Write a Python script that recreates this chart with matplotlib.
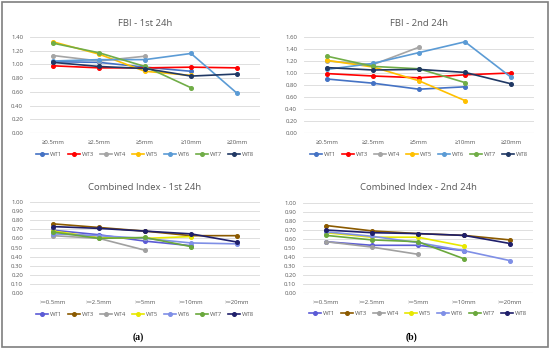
import numpy as np
import matplotlib
matplotlib.use("Agg")
import matplotlib.pyplot as plt
from matplotlib.patches import Rectangle

nan = np.nan
series = ["WT1", "WT3", "WT4", "WT5", "WT6", "WT7", "WT8"]
cats_fbi = ["≥0.5mm", "≥2.5mm", "≥5mm", "≥10mm", "≥20mm"]
cats_ci = [">=0.5mm", ">=2.5mm", ">=5mm", ">=10mm", ">=20mm"]

fbi_1st = {
    "WT1": [1.04, 1.03, 0.96, 0.90, nan],
    "WT3": [0.98, 0.95, 0.95, 0.96, 0.95],
    "WT4": [1.13, 1.05, 1.12, nan, nan],
    "WT5": [1.33, 1.15, 0.90, 0.84, nan],
    "WT6": [1.05, 1.07, 1.07, 1.16, 0.58],
    "WT7": [1.31, 1.17, 0.97, 0.66, nan],
    "WT8": [1.03, 0.97, 0.94, 0.83, 0.86],
}
fbi_2nd = {
    "WT1": [0.90, 0.83, 0.73, 0.77, nan],
    "WT3": [0.99, 0.95, 0.92, 0.97, 1.00],
    "WT4": [1.20, 1.14, 1.43, nan, nan],
    "WT5": [1.21, 1.10, 0.87, 0.54, nan],
    "WT6": [1.06, 1.16, 1.34, 1.52, 0.93],
    "WT7": [1.28, 1.11, 1.07, 0.84, nan],
    "WT8": [1.09, 1.05, 1.06, 1.01, 0.82],
}
ci_1st = {
    "WT1": [0.69, 0.64, 0.57, 0.52, nan],
    "WT3": [0.76, 0.72, 0.68, 0.63, 0.63],
    "WT4": [0.63, 0.60, 0.47, nan, nan],
    "WT5": [0.68, 0.61, 0.60, 0.62, nan],
    "WT6": [0.65, 0.63, 0.60, 0.55, 0.54],
    "WT7": [0.67, 0.60, 0.61, 0.51, nan],
    "WT8": [0.73, 0.71, 0.68, 0.65, 0.56],
}
ci_2nd = {
    "WT1": [0.57, 0.53, 0.53, 0.47, nan],
    "WT3": [0.75, 0.69, 0.66, 0.64, 0.59],
    "WT4": [0.57, 0.51, 0.43, nan, nan],
    "WT5": [0.67, 0.62, 0.62, 0.52, nan],
    "WT6": [0.68, 0.63, 0.56, 0.47, 0.36],
    "WT7": [0.64, 0.59, 0.57, 0.38, nan],
    "WT8": [0.70, 0.67, 0.66, 0.64, 0.55],
}

fbi_colors = {"WT1": "#4472C4", "WT3": "#FF0000", "WT4": "#A5A5A5", "WT5": "#FFC000",
              "WT6": "#5B9BD5", "WT7": "#70AD47", "WT8": "#203864"}
ci_colors = {"WT1": "#5B5BD6", "WT3": "#8B5A00", "WT4": "#A0A0A0", "WT5": "#E8E800",
             "WT6": "#7F8FE6", "WT7": "#6AA83C", "WT8": "#1F1F6B"}

plt.rcParams["font.family"] = ["Open Sans", "DejaVu Sans"]

W, H = 550, 349
fig = plt.figure(figsize=(W / 100, H / 100), dpi=100)


def panel(px_left, px_top, px_right, px_bottom, title, cats, data, colors, ymax, ystep, title_y):
    ax = fig.add_axes([px_left / W, 1 - px_bottom / H, (px_right - px_left) / W, (px_bottom - px_top) / H])
    x = np.arange(len(cats))
    for s in series:
        ax.plot(x, data[s], color=colors[s], lw=1.2, marker="o", ms=2.6, label=s)
    ax.set_xlim(-0.5, len(cats) - 0.5)
    ax.set_ylim(0, ymax)
    ticks = np.arange(0, ymax + ystep / 2, ystep)
    ax.set_yticks(ticks)
    ax.set_yticklabels([f"{t:.2f}" for t in ticks])
    ax.set_xticks(x)
    ax.set_xticklabels(cats)
    ax.tick_params(length=0, labelsize=4.3, colors="#595959", pad=5)
    ax.grid(axis="y", color="#D9D9D9", lw=0.6)
    ax.set_axisbelow(True)
    for sp in ax.spines.values():
        sp.set_visible(False)
    ax.axhline(0, color="#D9D9D9", lw=0.8)
    cx = (px_left + px_right) / 2 / W
    fig.text(cx, 1 - title_y / H, title, ha="center", va="center", fontsize=6.8, color="#595959")
    ax.legend(loc="upper center", bbox_to_anchor=(0.5, -0.17), ncol=7, frameon=False,
              fontsize=4.3, labelcolor="#595959", handlelength=2.0, columnspacing=1.0,
              handletextpad=0.3, borderpad=0)
    return ax


panel(30, 37, 260, 133, "FBI - 1st 24h", cats_fbi, fbi_1st, fbi_colors, 1.40, 0.20, 23)
panel(304, 37, 534, 133, "FBI - 2nd 24h", cats_fbi, fbi_2nd, fbi_colors, 1.60, 0.20, 23)
panel(30, 202, 260, 293, "Combined Index - 1st 24h", cats_ci, ci_1st, ci_colors, 1.00, 0.10, 188)
panel(303, 203, 533, 293, "Combined Index - 2nd 24h", cats_ci, ci_2nd, ci_colors, 1.00, 0.10, 188)

fig.text(138 / W, 1 - 337 / H, "(a)", ha="center", va="center", fontsize=7,
         family=["Liberation Serif", "DejaVu Serif"], weight="bold")
fig.text(411 / W, 1 - 337 / H, "(b)", ha="center", va="center", fontsize=7,
         family=["Liberation Serif", "DejaVu Serif"], weight="bold")

fig.patches.append(Rectangle((2 / W, 2 / H), (W - 4) / W, (H - 4) / H, transform=fig.transFigure,
                             fill=False, edgecolor="#7F7F7F", lw=1.2))

fig.savefig("out.png", dpi=100)
